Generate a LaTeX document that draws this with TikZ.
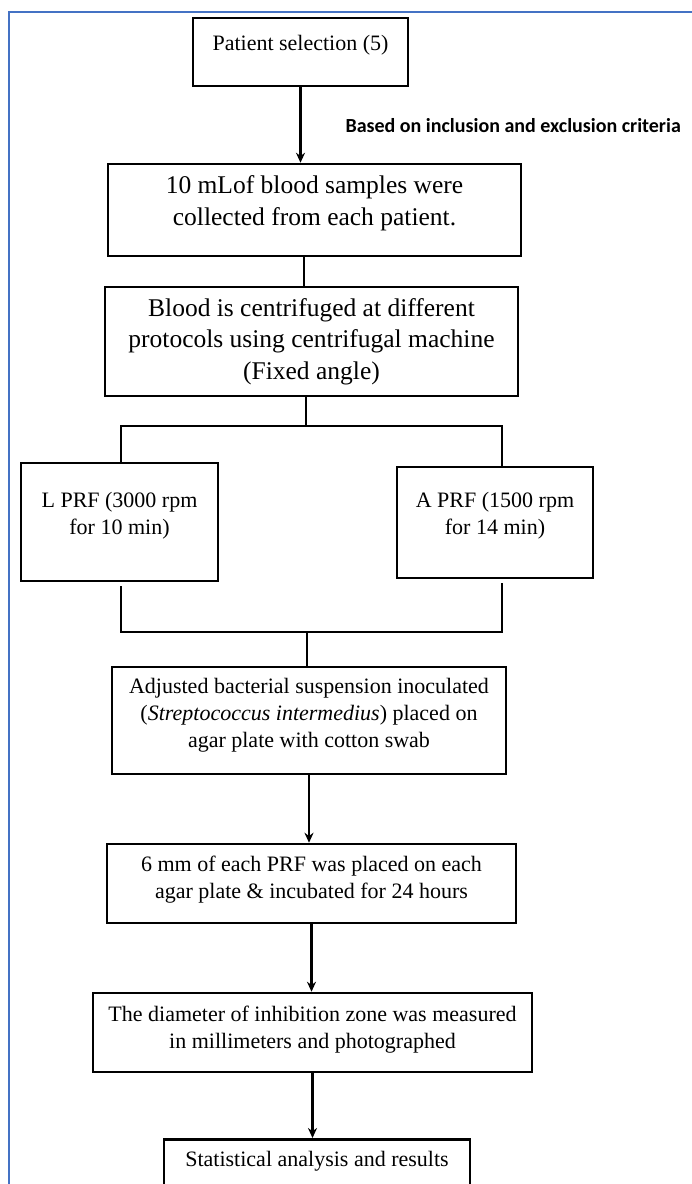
\documentclass[tikz,border=0pt]{standalone}
\usepackage{fontspec}
\setmainfont{Liberation Serif}
\newfontfamily\notefont{Carlito}
\usetikzlibrary{arrows.meta}

\definecolor{frameblue}{RGB}{68,114,196}

\begin{document}
\begin{tikzpicture}[x=1pt, y=-1pt, % one unit is one pixel of the page, y runs downwards
		procbox/.style={draw, line width=2.5pt, inner sep=0pt, align=center, font=\fontsize{22}{27}\selectfont},
		bigbox/.style={procbox, font=\fontsize{25.5}{31.5}\selectfont},
		link/.style={line width=2.5pt},
		arrowline/.style={link, -{Stealth[length=10pt, width=9pt]}}]
	
	% Page size
	\useasboundingbox (0,0) rectangle (692,1184);
	\clip (0,0) rectangle (692,1184);
	\fill[white] (0,0) rectangle (692,1184);
	
	% Blue frame round the chart
	\draw[frameblue, line width=1.5pt] (9,1200) -- (9,12) -- (700,12);
	
	% Steps of the chart
	\node[procbox, minimum width=215pt, minimum height=68pt, text depth=19pt] (sel) at (300.5,52) {Patient selection (5)};
	\node[bigbox, minimum width=413pt, minimum height=92pt, text depth=18.5pt] (blood) at (314.5,210) {10 mLof blood samples were\\collected from each patient.};
	\node[bigbox, minimum width=413pt, minimum height=109pt] (centri) at (311.5,341.5) {Blood is centrifuged at different\\protocols using centrifugal machine\\(Fixed angle)};
	\node[procbox, minimum width=197pt, minimum height=118pt, text depth=18pt] (lprf) at (119.5,522) {L PRF (3000 rpm\\for 10 min)};
	\node[procbox, minimum width=196pt, minimum height=111pt, text depth=18pt] (aprf) at (495,522.5) {A PRF (1500 rpm\\for 14 min)};
	\node[procbox, minimum width=394pt, minimum height=107pt, text depth=15pt] (adjust) at (309,720.5) {Adjusted bacterial suspension inoculated\\(\textit{Streptococcus intermedius}) placed on\\agar plate with cotton swab};
	\node[procbox, minimum width=409pt, minimum height=79pt, text depth=13pt] (place) at (311.5,883.5) {6 mm of each PRF was placed on each\\agar plate \& incubated for 24 hours};
	\node[procbox, minimum width=439pt, minimum height=79pt, text depth=11pt] (zone) at (312.5,1032.5) {The diameter of inhibition zone was measured\\in millimeters and photographed};
	\node[procbox, anchor=north, minimum width=306pt, minimum height=70pt, text depth=31pt] (stat) at (317,1138) {Statistical analysis and results};
	
	% Note beside the first arrow
	\node[anchor=west, font=\notefont\fontsize{20}{24}\selectfont\bfseries] (crit) at (342,126) {Based on inclusion and exclusion criteria};
	
	% Split and merge points
	\coordinate (split) at (306,426);
	\coordinate (splitL) at (121,426);
	\coordinate (splitR) at (502,426);
	\coordinate (merge) at (307,632);
	\coordinate (mergeL) at (121,632);
	\coordinate (mergeR) at (502,632);
	
	% Connectors
	\draw[arrowline] (sel.south) -- (sel.south |- blood.north);
	\draw[link] ([xshift=-10.5pt]blood.south) -- ([xshift=-10.5pt]blood.south |- centri.north);
	\draw[link] (split |- centri.south) -- (split);
	\draw[link] (splitL |- lprf.north) -- (splitL) -- (splitR) -- (splitR |- aprf.north);
	\draw[link] ([yshift=-4pt]mergeL |- lprf.south) -- (mergeL) -- (mergeR) -- ([yshift=-4pt]mergeR |- aprf.south);
	\draw[link] (merge) -- (merge |- adjust.north);
	\draw[arrowline] (adjust.south) -- (adjust.south |- place.north);
	\draw[arrowline] (place.south) -- (place.south |- zone.north);
	\draw[arrowline] (zone.south) -- (zone.south |- stat.north);
	
\end{tikzpicture}
\end{document}
